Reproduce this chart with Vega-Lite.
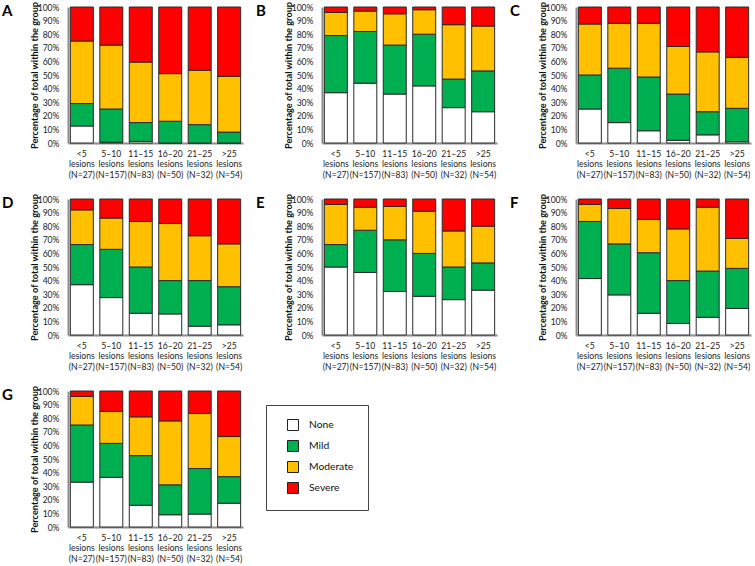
{
  "$schema": "https://vega.github.io/schema/vega-lite/v6.json",
  "padding": {"left": 2, "top": 1, "right": 2, "bottom": 2},
  "background": "white",
  "bounds": "flush",
  "datasets": {
    "levels": [
      {"level": "None", "rank": 1},
      {"level": "Mild", "rank": 2},
      {"level": "Moderate", "rank": 3},
      {"level": "Severe", "rank": 4}
    ],
    "bars": [
      {"p":"A","g":"<5|lesions|(N=27)","None":12.5,"Mild":16.5,"Moderate":46,"Severe":25},
      {"p":"A","g":"5–10|lesions|(N=157)","None":0.6,"Mild":24.4,"Moderate":47,"Severe":28},
      {"p":"A","g":"11–15|lesions|(N=83)","None":1.2,"Mild":13.8,"Moderate":44.5,"Severe":40.5},
      {"p":"A","g":"16–20|lesions|(N=50)","None":0,"Mild":16,"Moderate":35,"Severe":49},
      {"p":"A","g":"21–25|lesions|(N=32)","None":0,"Mild":13.5,"Moderate":40,"Severe":46.5},
      {"p":"A","g":">25|lesions|(N=54)","None":0,"Mild":8,"Moderate":41,"Severe":51},
      {"p":"B","g":"<5|lesions|(N=27)","None":37,"Mild":42,"Moderate":17,"Severe":4},
      {"p":"B","g":"5–10|lesions|(N=157)","None":44,"Mild":38,"Moderate":15,"Severe":3},
      {"p":"B","g":"11–15|lesions|(N=83)","None":36,"Mild":36,"Moderate":23,"Severe":5},
      {"p":"B","g":"16–20|lesions|(N=50)","None":42,"Mild":38,"Moderate":18,"Severe":2},
      {"p":"B","g":"21–25|lesions|(N=32)","None":26,"Mild":21,"Moderate":40,"Severe":13},
      {"p":"B","g":">25|lesions|(N=54)","None":23,"Mild":30,"Moderate":33,"Severe":14},
      {"p":"C","g":"<5|lesions|(N=27)","None":25,"Mild":25,"Moderate":37.5,"Severe":12.5},
      {"p":"C","g":"5–10|lesions|(N=157)","None":15,"Mild":40,"Moderate":33,"Severe":12},
      {"p":"C","g":"11–15|lesions|(N=83)","None":9,"Mild":39.5,"Moderate":39.5,"Severe":12},
      {"p":"C","g":"16–20|lesions|(N=50)","None":2,"Mild":34,"Moderate":35,"Severe":29},
      {"p":"C","g":"21–25|lesions|(N=32)","None":6,"Mild":17,"Moderate":44,"Severe":33},
      {"p":"C","g":">25|lesions|(N=54)","None":1,"Mild":24.5,"Moderate":37.5,"Severe":37},
      {"p":"D","g":"<5|lesions|(N=27)","None":37,"Mild":29.5,"Moderate":25.5,"Severe":8},
      {"p":"D","g":"5–10|lesions|(N=157)","None":27.5,"Mild":35.5,"Moderate":23,"Severe":14},
      {"p":"D","g":"11–15|lesions|(N=83)","None":16,"Mild":34,"Moderate":33.5,"Severe":16.5},
      {"p":"D","g":"16–20|lesions|(N=50)","None":15.5,"Mild":24.5,"Moderate":42,"Severe":18},
      {"p":"D","g":"21–25|lesions|(N=32)","None":6.5,"Mild":33.5,"Moderate":33,"Severe":27},
      {"p":"D","g":">25|lesions|(N=54)","None":7.5,"Mild":28,"Moderate":31.5,"Severe":33},
      {"p":"E","g":"<5|lesions|(N=27)","None":50,"Mild":16.5,"Moderate":29.5,"Severe":4},
      {"p":"E","g":"5–10|lesions|(N=157)","None":46,"Mild":31,"Moderate":17,"Severe":6},
      {"p":"E","g":"11–15|lesions|(N=83)","None":32,"Mild":38,"Moderate":24.5,"Severe":5.5},
      {"p":"E","g":"16–20|lesions|(N=50)","None":28.5,"Mild":31.5,"Moderate":31,"Severe":9},
      {"p":"E","g":"21–25|lesions|(N=32)","None":26,"Mild":24,"Moderate":26.5,"Severe":23.5},
      {"p":"E","g":">25|lesions|(N=54)","None":33,"Mild":20,"Moderate":27,"Severe":20},
      {"p":"F","g":"<5|lesions|(N=27)","None":41.5,"Mild":42,"Moderate":12.5,"Severe":4},
      {"p":"F","g":"5–10|lesions|(N=157)","None":29.5,"Mild":37.5,"Moderate":26,"Severe":7},
      {"p":"F","g":"11–15|lesions|(N=83)","None":16,"Mild":44.5,"Moderate":24.5,"Severe":15},
      {"p":"F","g":"16–20|lesions|(N=50)","None":8.5,"Mild":31.5,"Moderate":38,"Severe":22},
      {"p":"F","g":"21–25|lesions|(N=32)","None":13,"Mild":34,"Moderate":47,"Severe":6},
      {"p":"F","g":">25|lesions|(N=54)","None":19.5,"Mild":29.5,"Moderate":22,"Severe":29},
      {"p":"G","g":"<5|lesions|(N=27)","None":33,"Mild":42,"Moderate":21,"Severe":4},
      {"p":"G","g":"5–10|lesions|(N=157)","None":36.5,"Mild":25,"Moderate":23.5,"Severe":15},
      {"p":"G","g":"11–15|lesions|(N=83)","None":16,"Mild":36.5,"Moderate":28.5,"Severe":19},
      {"p":"G","g":"16–20|lesions|(N=50)","None":9,"Mild":22,"Moderate":47,"Severe":22},
      {"p":"G","g":"21–25|lesions|(N=32)","None":9.5,"Mild":33.5,"Moderate":40.5,"Severe":16.5},
      {"p":"G","g":">25|lesions|(N=54)","None":17.5,"Mild":19.5,"Moderate":29.5,"Severe":33.5}
    ]
  },
  "data": {"name": "bars"},
  "transform": [
    {"fold": ["None","Mild","Moderate","Severe"], "as": ["level","pct"]},
    {"lookup": "level", "from": {"data": {"name": "levels"}, "key": "level", "fields": ["rank"]}}
  ],
  "columns": 3,
  "spacing": {"row": 56, "column": 79},
  "concat": [
    {"title": {"text": "A"}, "transform": [{"filter": "datum.p == 'A'"}], "width": 175, "height": 136, "mark": {"type": "bar", "stroke": "#2a2a2a", "strokeWidth": 1},
     "encoding": {
       "x": {"field": "g", "type": "nominal", "sort": null, "title": null, "scale": {"paddingInner": 0.22, "paddingOuter": 0.08}, "axis": {"labelExpr": "split(datum.value, '|')", "labelAngle": 0}},
       "y": {"field": "pct", "type": "quantitative", "stack": "normalize", "title": "Percentage of total within the group", "scale": {"domain": [0, 1]}, "axis": {"format": ".0%", "values": [0,0.1,0.2,0.3,0.4,0.5,0.6,0.7,0.8,0.9,1]}},
       "order": {"field": "rank", "type": "quantitative", "sort": "ascending"},
       "color": {"field": "level", "type": "nominal", "sort": ["None","Mild","Moderate","Severe"], "scale": {"domain": ["None","Mild","Moderate","Severe"], "range": ["#ffffff","#00b050","#ffc000","#ff0000"]}, "legend": {"title": null, "orient": "none", "legendX": 198, "legendY": 398}}
     }},
    {"title": {"text": "B"}, "transform": [{"filter": "datum.p == 'B'"}], "width": 175, "height": 136, "mark": {"type": "bar", "stroke": "#2a2a2a", "strokeWidth": 1},
     "encoding": {
       "x": {"field": "g", "type": "nominal", "sort": null, "title": null, "scale": {"paddingInner": 0.22, "paddingOuter": 0.08}, "axis": {"labelExpr": "split(datum.value, '|')", "labelAngle": 0}},
       "y": {"field": "pct", "type": "quantitative", "stack": "normalize", "title": "Percentage of total within the group", "scale": {"domain": [0, 1]}, "axis": {"format": ".0%", "values": [0,0.1,0.2,0.3,0.4,0.5,0.6,0.7,0.8,0.9,1]}},
       "order": {"field": "rank", "type": "quantitative", "sort": "ascending"},
       "color": {"field": "level", "type": "nominal", "sort": ["None","Mild","Moderate","Severe"], "scale": {"domain": ["None","Mild","Moderate","Severe"], "range": ["#ffffff","#00b050","#ffc000","#ff0000"]}}
     }},
    {"title": {"text": "C"}, "transform": [{"filter": "datum.p == 'C'"}], "width": 175, "height": 136, "mark": {"type": "bar", "stroke": "#2a2a2a", "strokeWidth": 1},
     "encoding": {
       "x": {"field": "g", "type": "nominal", "sort": null, "title": null, "scale": {"paddingInner": 0.22, "paddingOuter": 0.08}, "axis": {"labelExpr": "split(datum.value, '|')", "labelAngle": 0}},
       "y": {"field": "pct", "type": "quantitative", "stack": "normalize", "title": "Percentage of total within the group", "scale": {"domain": [0, 1]}, "axis": {"format": ".0%", "values": [0,0.1,0.2,0.3,0.4,0.5,0.6,0.7,0.8,0.9,1]}},
       "order": {"field": "rank", "type": "quantitative", "sort": "ascending"},
       "color": {"field": "level", "type": "nominal", "sort": ["None","Mild","Moderate","Severe"], "scale": {"domain": ["None","Mild","Moderate","Severe"], "range": ["#ffffff","#00b050","#ffc000","#ff0000"]}}
     }},
    {"title": {"text": "D"}, "transform": [{"filter": "datum.p == 'D'"}], "width": 175, "height": 136, "mark": {"type": "bar", "stroke": "#2a2a2a", "strokeWidth": 1},
     "encoding": {
       "x": {"field": "g", "type": "nominal", "sort": null, "title": null, "scale": {"paddingInner": 0.22, "paddingOuter": 0.08}, "axis": {"labelExpr": "split(datum.value, '|')", "labelAngle": 0}},
       "y": {"field": "pct", "type": "quantitative", "stack": "normalize", "title": "Percentage of total within the group", "scale": {"domain": [0, 1]}, "axis": {"format": ".0%", "values": [0,0.1,0.2,0.3,0.4,0.5,0.6,0.7,0.8,0.9,1]}},
       "order": {"field": "rank", "type": "quantitative", "sort": "ascending"},
       "color": {"field": "level", "type": "nominal", "sort": ["None","Mild","Moderate","Severe"], "scale": {"domain": ["None","Mild","Moderate","Severe"], "range": ["#ffffff","#00b050","#ffc000","#ff0000"]}}
     }},
    {"title": {"text": "E"}, "transform": [{"filter": "datum.p == 'E'"}], "width": 175, "height": 136, "mark": {"type": "bar", "stroke": "#2a2a2a", "strokeWidth": 1},
     "encoding": {
       "x": {"field": "g", "type": "nominal", "sort": null, "title": null, "scale": {"paddingInner": 0.22, "paddingOuter": 0.08}, "axis": {"labelExpr": "split(datum.value, '|')", "labelAngle": 0}},
       "y": {"field": "pct", "type": "quantitative", "stack": "normalize", "title": "Percentage of total within the group", "scale": {"domain": [0, 1]}, "axis": {"format": ".0%", "values": [0,0.1,0.2,0.3,0.4,0.5,0.6,0.7,0.8,0.9,1]}},
       "order": {"field": "rank", "type": "quantitative", "sort": "ascending"},
       "color": {"field": "level", "type": "nominal", "sort": ["None","Mild","Moderate","Severe"], "scale": {"domain": ["None","Mild","Moderate","Severe"], "range": ["#ffffff","#00b050","#ffc000","#ff0000"]}}
     }},
    {"title": {"text": "F"}, "transform": [{"filter": "datum.p == 'F'"}], "width": 175, "height": 136, "mark": {"type": "bar", "stroke": "#2a2a2a", "strokeWidth": 1},
     "encoding": {
       "x": {"field": "g", "type": "nominal", "sort": null, "title": null, "scale": {"paddingInner": 0.22, "paddingOuter": 0.08}, "axis": {"labelExpr": "split(datum.value, '|')", "labelAngle": 0}},
       "y": {"field": "pct", "type": "quantitative", "stack": "normalize", "title": "Percentage of total within the group", "scale": {"domain": [0, 1]}, "axis": {"format": ".0%", "values": [0,0.1,0.2,0.3,0.4,0.5,0.6,0.7,0.8,0.9,1]}},
       "order": {"field": "rank", "type": "quantitative", "sort": "ascending"},
       "color": {"field": "level", "type": "nominal", "sort": ["None","Mild","Moderate","Severe"], "scale": {"domain": ["None","Mild","Moderate","Severe"], "range": ["#ffffff","#00b050","#ffc000","#ff0000"]}}
     }},
    {"title": {"text": "G"}, "transform": [{"filter": "datum.p == 'G'"}], "width": 175, "height": 136, "mark": {"type": "bar", "stroke": "#2a2a2a", "strokeWidth": 1},
     "encoding": {
       "x": {"field": "g", "type": "nominal", "sort": null, "title": null, "scale": {"paddingInner": 0.22, "paddingOuter": 0.08}, "axis": {"labelExpr": "split(datum.value, '|')", "labelAngle": 0}},
       "y": {"field": "pct", "type": "quantitative", "stack": "normalize", "title": "Percentage of total within the group", "scale": {"domain": [0, 1]}, "axis": {"format": ".0%", "values": [0,0.1,0.2,0.3,0.4,0.5,0.6,0.7,0.8,0.9,1]}},
       "order": {"field": "rank", "type": "quantitative", "sort": "ascending"},
       "color": {"field": "level", "type": "nominal", "sort": ["None","Mild","Moderate","Severe"], "scale": {"domain": ["None","Mild","Moderate","Severe"], "range": ["#ffffff","#00b050","#ffc000","#ff0000"]}}
     }}
  ],
  "config": {
    "font": "Lato",
    "view": {"stroke": null},
    "title": {"anchor": "start", "frame": "group", "dx": -66, "offset": -18, "baseline": "alphabetic", "fontSize": 15, "fontWeight": "bold", "color": "#000", "font": "Lato"},
    "axis": {"domainColor": "#8c8c8c", "domainWidth": 2, "ticks": false, "grid": false, "labelFont": "Lato", "labelFontSize": 8.6, "labelColor": "#222", "titleFont": "Lato", "titleFontWeight": "bold", "titleFontSize": 9.2, "titleColor": "#111"},
    "axisY": {"labelPadding": 9, "titlePadding": -2},
    "axisX": {"labelPadding": 6, "labelLineHeight": 10.5},
    "legend": {"strokeColor": "#444", "padding": 14, "rowPadding": 5, "labelFontSize": 10.3, "labelFont": "Lato", "labelColor": "#111", "symbolType": "square", "symbolSize": 121, "symbolStrokeColor": "#222", "symbolStrokeWidth": 1, "symbolOffset": 7, "labelOffset": 10}
  }
}
